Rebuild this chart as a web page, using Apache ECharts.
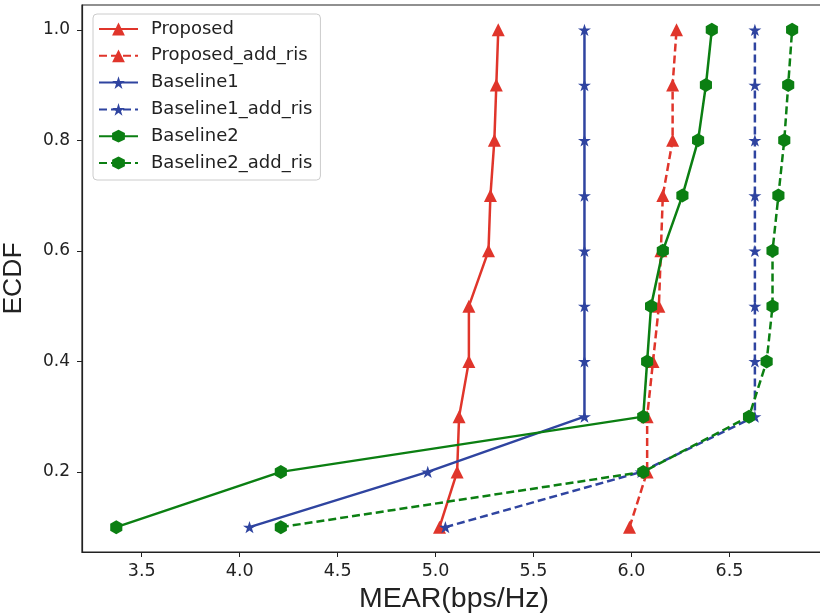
<!DOCTYPE html>
<html>
<head>
<meta charset="utf-8">
<script src="https://cdn.jsdelivr.net/npm/echarts@6/dist/echarts.min.js"></script>
<style>
  html, body { margin: 0; padding: 0; background: #fff; }
  #chart { width: 820px; height: 616px; }
</style>
</head>
<body>
<div id="chart"></div>
<script>
// ECDF levels (y) shared by all curves
const ecdf = [0.1, 0.2, 0.3, 0.4, 0.5, 0.6, 0.7, 0.8, 0.9, 1.0];

// MEAR values, one per ECDF level
const proposed        = [5.02, 5.11, 5.12, 5.17, 5.17, 5.27, 5.28, 5.30, 5.31, 5.32];
const proposedRis     = [5.99, 6.08, 6.08, 6.11, 6.14, 6.15, 6.16, 6.21, 6.21, 6.23];
const baseline1       = [4.05, 4.96, 5.76, 5.76, 5.76, 5.76, 5.76, 5.76, 5.76, 5.76];
const baseline1Ris    = [5.05, 6.05, 6.63, 6.63, 6.63, 6.63, 6.63, 6.63, 6.63, 6.63];
const baseline2       = [3.37, 4.21, 6.06, 6.08, 6.10, 6.16, 6.26, 6.34, 6.38, 6.41];
const baseline2Ris    = [4.21, 6.06, 6.60, 6.69, 6.72, 6.72, 6.75, 6.78, 6.80, 6.82];

// tick labels
const xTicks = [3.5, 4.0, 4.5, 5.0, 5.5, 6.0, 6.5];
const yTicks = [0.2, 0.4, 0.6, 0.8, 1.0];

const RED = '#e0352b';
const BLUE = '#2f44a0';
const GREEN = '#0b7f12';

// marker shapes
const STAR = 'path://M0,-1L0.2245,-0.309L0.951,-0.309L0.3633,0.118L0.5878,0.809L0,0.382L-0.5878,0.809L-0.3633,0.118L-0.951,-0.309L-0.2245,-0.309Z';
const HEX = 'path://M0,-1L0.866,-0.5L0.866,0.5L0,1L-0.866,0.5L-0.866,-0.5Z';

function curve(name, xs, color, symbol, size, dashed) {
  return {
    name: name,
    type: 'line',
    data: xs.map((x, i) => [x, ecdf[i]]),
    color: color,
    symbol: symbol,
    symbolSize: size,
    symbolKeepAspect: true,
    showAllSymbol: true,
    animation: false,
    lineStyle: { color: color, width: 2.5, type: dashed ? [8, 4] : 'solid' },
    itemStyle: { color: color }
  };
}

const chart = echarts.init(document.getElementById('chart'));
chart.setOption({
  backgroundColor: '#fff',
  animation: false,
  grid: {
    left: 82, top: 5, width: 744, height: 547,
    outerBoundsMode: 'none',
    containLabel: false,
    show: true, borderColor: '#222', borderWidth: 1.2
  },
  legend: {
    left: 93, top: 14,
    orient: 'vertical',
    padding: [6, 8, 8, 5],
    itemWidth: 39,
    itemHeight: 16,
    itemGap: 8.8,
    backgroundColor: 'rgba(255,255,255,0.8)',
    borderColor: '#cccccc',
    borderWidth: 1,
    borderRadius: 4,
    textStyle: {
      fontFamily: 'DejaVu Sans', fontSize: 18, color: '#222',
      lineHeight: 16, padding: [0, 0, 0, 8]
    },
    data: ['Proposed', 'Proposed_add_ris', 'Baseline1', 'Baseline1_add_ris', 'Baseline2', 'Baseline2_add_ris']
  },
  xAxis: {
    type: 'value',
    min: 3.195, max: 6.993,
    name: 'MEAR(bps/Hz)',
    nameLocation: 'middle',
    nameGap: 31,
    nameTextStyle: { fontFamily: 'Liberation Sans', fontSize: 28.5, color: '#222' },
    splitLine: { show: false },
    axisLine: { lineStyle: { color: '#222', width: 1.2 } },
    axisTick: { length: 5, lineStyle: { color: '#222' }, customValues: xTicks },
    axisLabel: {
      customValues: xTicks,
      margin: 10,
      fontFamily: 'DejaVu Sans', fontSize: 17.5, color: '#222',
      formatter: v => v.toFixed(1)
    }
  },
  yAxis: {
    type: 'value',
    min: 0.055, max: 1.045,
    name: 'ECDF',
    nameLocation: 'middle',
    nameRotate: 90,
    nameGap: 55,
    nameTextStyle: { fontFamily: 'Liberation Sans', fontSize: 26.5, color: '#222' },
    splitLine: { show: false },
    axisLine: { show: true, lineStyle: { color: '#222', width: 1.2 } },
    axisTick: { show: true, length: 5, lineStyle: { color: '#222' }, customValues: yTicks },
    axisLabel: {
      customValues: yTicks,
      margin: 12,
      fontFamily: 'DejaVu Sans', fontSize: 17, color: '#222',
      formatter: v => v.toFixed(1)
    }
  },
  series: [
    curve('Proposed', proposed, RED, 'triangle', 13, false),
    curve('Proposed_add_ris', proposedRis, RED, 'triangle', 13, true),
    curve('Baseline1', baseline1, BLUE, STAR, 13, false),
    curve('Baseline1_add_ris', baseline1Ris, BLUE, STAR, 13, true),
    curve('Baseline2', baseline2, GREEN, HEX, 14, false),
    curve('Baseline2_add_ris', baseline2Ris, GREEN, HEX, 14, true)
  ]
});
</script>
</body>
</html>
